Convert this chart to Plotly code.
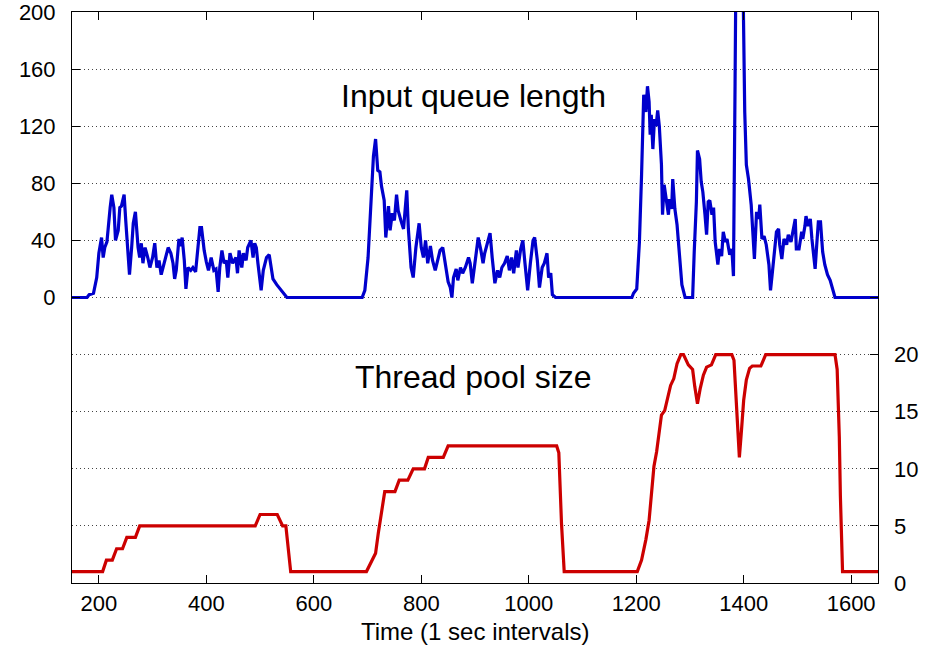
import plotly.graph_objects as go

# Input queue length (left axis)
queue_t = [150,178,182,190,196,200,205,208,211,215,221,224,228,231,236,239,242,247,250,255,
           257,261,264,268,273,276,279,282,286,291,295,300,304,308,312,316,321,329,334,338,
           341,344,349,353,355,359,362,366,371,375,380,385,388,391,396,400,404,409,414,418,
           422,425,429,433,437,440,444,449,455,458,461,466,469,474,477,483,487,490,493,496,
           502,506,512,517,520,524,531,540,545,550,
           690,695,701,706,711,715,719,723,726,731,734,739,742,746,750,754,757,762,767,773,
           776,781,785,790,796,800,804,808,812,817,821,826,831,835,840,845,850,854,857,860,
           865,868,873,877,882,888,891,895,900,906,911,915,918,923,928,932,937,942,946,950,
           955,960,964,968,972,977,980,985,989,993,998,1003,1008,1011,1016,1020,1025,1029,1034,1037,
           1041,1044,1050,
           1192,1195,1201,1206,1210,1214,1218,1221,1224,1226,1228,1231,1234,1237,1240,1243,1247,1249,1252,1256,
           1260,1262,1266,1268,1272,1276,1280,1285,1291,1305,1308,1312,1314,1318,1321,1324,1328,1331,1334,1337,
           1341,1344,1347,1352,1355,1359,1362,1366,1369,1374,1378,1381,1384,1387,1396,1399,1402,1405,1409,1414,
           1416,1420,1424,1428,1430,1434,1438,1442,1447,1450,1453,1457,1461,1465,1467,1471,1475,1480,1483,1488,
           1492,1496,1498,1503,1508,1510,1514,1516,1520,1524,1527,1533,1536,1539,1543,1547,1551,1556,1561,1566,
           1570,1650]
queue_len = [0,0,2,3,14,31,42,28,35,39,63,72,63,40,47,63,64,72,54,28,
             16,35,52,60,35,28,38,24,35,28,21,28,38,21,26,16,24,35,31,24,
             13,19,41,36,42,26,6,21,19,21,18,35,49,49,33,25,19,28,19,20,
             4,21,33,24,26,14,31,24,28,17,33,21,31,26,35,40,28,38,35,24,
             5,19,28,30,24,13,9,5,2,0,
             0,5,28,66,99,111,89,88,78,68,42,64,47,59,54,72,61,54,48,75,
             48,21,14,35,52,35,28,40,24,36,26,19,28,33,35,24,11,7,0,14,
             20,12,21,17,21,28,24,10,26,42,33,24,31,38,45,28,10,19,14,21,
             24,29,19,28,17,33,21,34,40,24,5,24,40,42,26,7,21,24,31,14,
             17,2,0,
             0,3,6,39,86,142,130,148,137,114,128,104,125,120,131,120,93,58,79,69,
             58,69,62,83,62,51,34,9,0,0,32,67,103,97,81,74,58,44,67,68,
             58,63,39,23,34,29,46,39,41,30,34,15,150,300,300,200,130,93,83,65,
             51,27,60,55,65,41,43,37,23,5,16,32,46,48,37,27,41,37,44,39,
             48,55,34,34,46,41,50,57,50,55,41,20,37,53,53,32,23,16,12,6,
             0,0]

# Thread pool size (right axis)
pool_t = [150,207,214,225,233,244,252,268,276,491,500,532,542,548,557,698,715,720,732,751,
          759,775,785,806,813,841,850,1052,1056,1061,1066,1202,1210,1218,1224,1229,1233,1238,1243,1247,
          1253,1259,1264,1270,1276,1283,1288,1297,1305,1309,1314,1319,1325,1331,1340,1348,1378,1382,1387,1392,
          1396,1400,1405,1411,1416,1432,1441,1570,1574,1578,1580,1584,1650]
pool_size = [1,1,2,2,3,3,4,4,5,5,6,6,5,5,1,1,2.6,4.35,8,8,
             9,9,10,10,11,11,12,12,11.4,5.2,1,1,2,3.8,5.5,7.9,10.2,11.5,13.1,14.7,
             15.1,16.2,17.3,17.9,19.2,20,20,19.1,18.7,17.2,15.7,17,18.2,18.9,19.1,20,20,19.5,15.7,11,
             13.4,16,17.8,18.8,19,19,20,20,18.7,12.8,7.6,1,1]

x_ticks = [200, 400, 600, 800, 1000, 1200, 1400, 1600]
left_ticks = [0, 40, 80, 120, 160, 200]
right_ticks = [0, 5, 10, 15, 20]

FONT = "Liberation Sans, Arial, sans-serif"
GRID = dict(showgrid=True, gridcolor="#444444", gridwidth=1, griddash="1px,3px")

fig = go.Figure()
fig.add_trace(go.Scatter(x=queue_t, y=queue_len, mode="lines",
                         line=dict(color="#0000cc", width=3.2), yaxis="y",
                         name="Input queue length"))
fig.add_trace(go.Scatter(x=pool_t, y=pool_size, mode="lines",
                         line=dict(color="#cc0000", width=3.2), yaxis="y2",
                         name="Thread pool size"))

fig.update_layout(
    width=928, height=656,
    margin=dict(l=72, r=50, t=12, b=73, autoexpand=False),
    paper_bgcolor="white", plot_bgcolor="white",
    showlegend=False,
    font=dict(family=FONT, size=22, color="black"),
    xaxis=dict(range=[150, 1650], tickvals=x_ticks, ticks="inside", ticklen=8,
               tickcolor="black", showline=True, linecolor="black", linewidth=1,
               mirror="ticks", showgrid=False, zeroline=False, automargin=False,
               ticklabelstandoff=1),
    yaxis=dict(range=[-200, 200], tickvals=left_ticks, ticks="inside", ticklen=8,
               tickcolor="black", showline=True, linecolor="black", linewidth=1,
               mirror="ticks", zeroline=False, automargin=False, ticklabelstandoff=11,
               ticklabeloverflow="allow", **GRID),
    yaxis2=dict(range=[0, 50], tickvals=right_ticks, ticks="inside", ticklen=8,
                tickcolor="black", overlaying="y", side="right", automargin=False,
                showline=False, zeroline=False, ticklabelstandoff=15, **GRID),
    annotations=[
        dict(text="Input queue length", x=898, y=141, xref="x", yref="y",
             showarrow=False, font=dict(size=32, family=FONT), xanchor="center", yanchor="middle"),
        dict(text="Thread pool size", x=898, y=18.0, xref="x", yref="y2",
             showarrow=False, font=dict(size=32, family=FONT), xanchor="center", yanchor="middle"),
        dict(text="Time (1 sec intervals)", x=0.5, y=0, xref="paper", yref="paper",
             yshift=-48, showarrow=False, font=dict(size=24, family=FONT),
             xanchor="center", yanchor="middle"),
    ],
)

fig.write_html("out.html", config={"displayModeBar": False},
               post_script="document.body.style.margin='0';")
